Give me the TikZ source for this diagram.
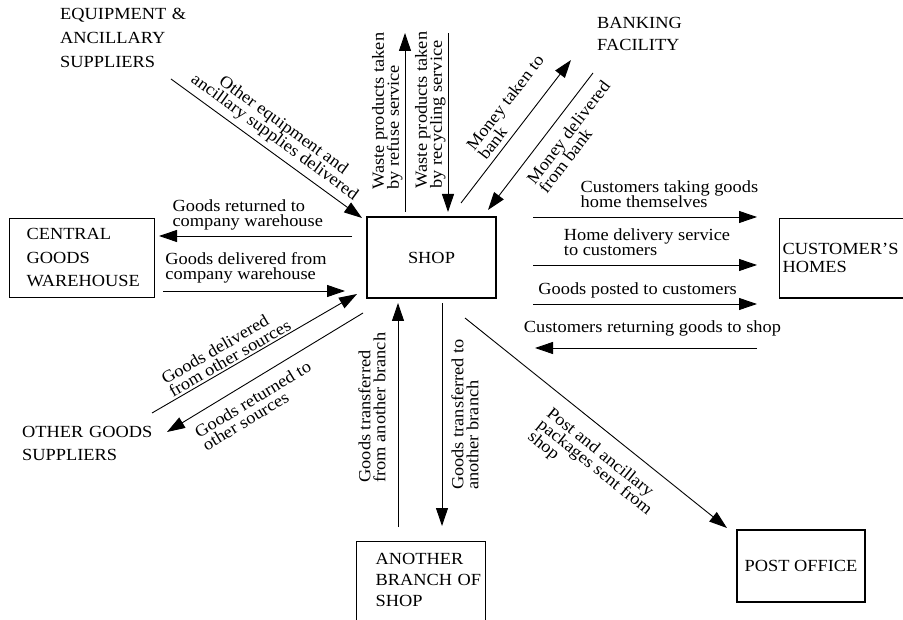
\documentclass[tikz,border=0pt]{standalone}
\usepackage{fontspec}
\setmainfont{Liberation Serif}[FakeStretch=1.08]
\usepackage{tikz}
\usetikzlibrary{arrows.meta, positioning}
\newcommand\boxfont[1]{\fontsize{17}{#1}\selectfont}
\newcommand\lblfont{\fontsize{17}{15}\selectfont\lineskiplimit=-20pt\relax}
\tikzset{
   >={Triangle[length=18pt,width=12pt]},
   place/.style={
     font=\boxfont{23.5}, align=left, inner sep=0pt
   },
   boxnode/.style={
      place,
      draw=black, line width=1.1pt, inner sep=3pt
   },
   flow/.style={->, line width=0.9pt},
   backflow/.style={<-, line width=0.9pt},
   lbl/.style={font=\lblfont, align=left, inner sep=2pt}
}

\begin{document}
\begin{tikzpicture}[x=1pt, y=-1pt]
      \useasboundingbox (0,0) rectangle (903,620);

      \node[boxnode, minimum width=129pt, minimum height=81pt](shop) at (431.5,257.5) {SHOP};
      \node[boxnode, anchor=north west, text width=111pt, inner xsep=17pt, inner ysep=10pt](warehouse) at (9,218) {CENTRAL\\ GOODS\\ WAREHOUSE};
      \node[boxnode, anchor=north west, text width=140pt, inner xsep=3pt, inner ysep=25pt, font=\boxfont{18}](homes) at (779,218) {CUSTOMER'S\\ HOMES};
      \node[boxnode, anchor=north west, text width=91pt, inner xsep=19pt, inner ysep=12pt, text depth=70pt, font=\boxfont{21}](branch) at (356,541) {ANOTHER\\ BRANCH~OF\\ SHOP};
      \node[boxnode, minimum width=128pt, minimum height=72pt](post) at (801,566) {POST OFFICE};

      \node[place, anchor=base west, text width=150pt, font=\boxfont{24}](equip) at (60,20) {EQUIPMENT \&\\ ANCILLARY\\ SUPPLIERS};
      \node[place, anchor=base west, text width=150pt, font=\boxfont{22}](bank) at (597,29) {BANKING\\ FACILITY};
      \node[place, anchor=base west, text width=150pt](others) at (22,437.5) {OTHER GOODS\\ SUPPLIERS};

      \coordinate (eqA) at (171,79);
      \coordinate (eqB) at (362,218);
      \coordinate (refA) at (405,212);
      \coordinate (refB) at (405,33);
      \coordinate (recA) at (448,33);
      \coordinate (recB) at (448,212);
      \coordinate (bnkA) at (461,203);
      \coordinate (bnkB) at (571,60);
      \coordinate (bnkC) at (593,73);
      \coordinate (bnkD) at (488,210);
      \coordinate (whA) at (352,236);
      \coordinate (whB) at (159,236);
      \coordinate (whC) at (163,291);
      \coordinate (whD) at (345,291);
      \coordinate (osA) at (152,413);
      \coordinate (osB) at (357,294);
      \coordinate (osC) at (363,313);
      \coordinate (osD) at (167,432);
      \coordinate (brA) at (398,527);
      \coordinate (brB) at (398,303);
      \coordinate (brC) at (442,303);
      \coordinate (brD) at (442,526);
      \coordinate (poA) at (465,318);
      \coordinate (poB) at (727,528);
      \coordinate (chA) at (533,217);
      \coordinate (chB) at (757,217);
      \coordinate (chC) at (533,265);
      \coordinate (chD) at (757,265);
      \coordinate (chE) at (533,304);
      \coordinate (chF) at (757,304);
      \coordinate (chG) at (757,348);
      \coordinate (chH) at (535,348);

      \draw[flow] (eqA) -- node[lbl, sloped, above, pos=.5, align=center, inner sep=5pt](lequip) {Other equipment and\\ ancillary supplies delivered} (eqB);
      \draw[flow] (refA) -- node[lbl, sloped, above, pos=.564](lrefuse) {Waste products taken\\ by refuse service} (refB);
      \draw[backflow] (recB) -- node[lbl, sloped, above, pos=.57](lrecycle) {Waste products taken\\ by recycling service} (recA);
      \draw[flow] (bnkA) -- node[lbl, sloped, above, pos=.59, inner sep=5pt](ltobank) {Money taken to\\ bank} (bnkB);
      \draw[flow] (bnkC) -- node[lbl, sloped, below, pos=.36, inner sep=10pt](lfrombank) {Money delivered\\ from bank} (bnkD);

      \draw[flow] (whA) -- node[lbl, above, pos=.54, inner sep=5pt](ltowh) {Goods returned to\\ company warehouse} (whB);
      \draw[flow] (whC) -- node[lbl, above, pos=.456, inner sep=7pt](lfromwh) {Goods delivered from\\ company warehouse} (whD);
      \draw[flow] (osA) -- node[lbl, sloped, above, pos=.40](lfromos) {Goods delivered\\ from other sources} (osB);
      \draw[flow] (osC) -- node[lbl, sloped, below, pos=.606, inner sep=10pt](ltoos) {Goods returned to\\ other sources} (osD);

      \draw[flow] (brA) -- node[lbl, sloped, above, pos=.533, inner sep=12pt](lfrombr) {Goods transferred\\ from another branch} (brB);
      \draw[backflow] (brD) -- node[lbl, sloped, below, pos=.5, inner sep=9pt](ltobr) {Goods transferred to\\ another branch} (brC);
      \draw[flow] (poA) -- node[lbl, sloped, below, pos=.58, inner sep=13pt](lpost) {Post and ancillary\\ packages sent from\\ shop} (poB);

      \draw[flow] (chA) -- node[lbl, above, pos=.609, inner sep=9pt](ltake) {Customers taking goods\\ home themselves} (chB);
      \draw[flow] (chC) -- node[lbl, above, pos=.509, inner sep=9pt](ldeliver) {Home delivery service\\ to customers} (chD);
      \draw[flow] (chE) -- node[lbl, above, pos=.467, inner sep=5pt](lposted) {Goods posted to customers} (chF);
      \draw[flow] (chG) -- node[lbl, above, pos=.471, inner sep=11pt](lreturn) {Customers returning goods to shop} (chH);
\end{tikzpicture}
\end{document}
